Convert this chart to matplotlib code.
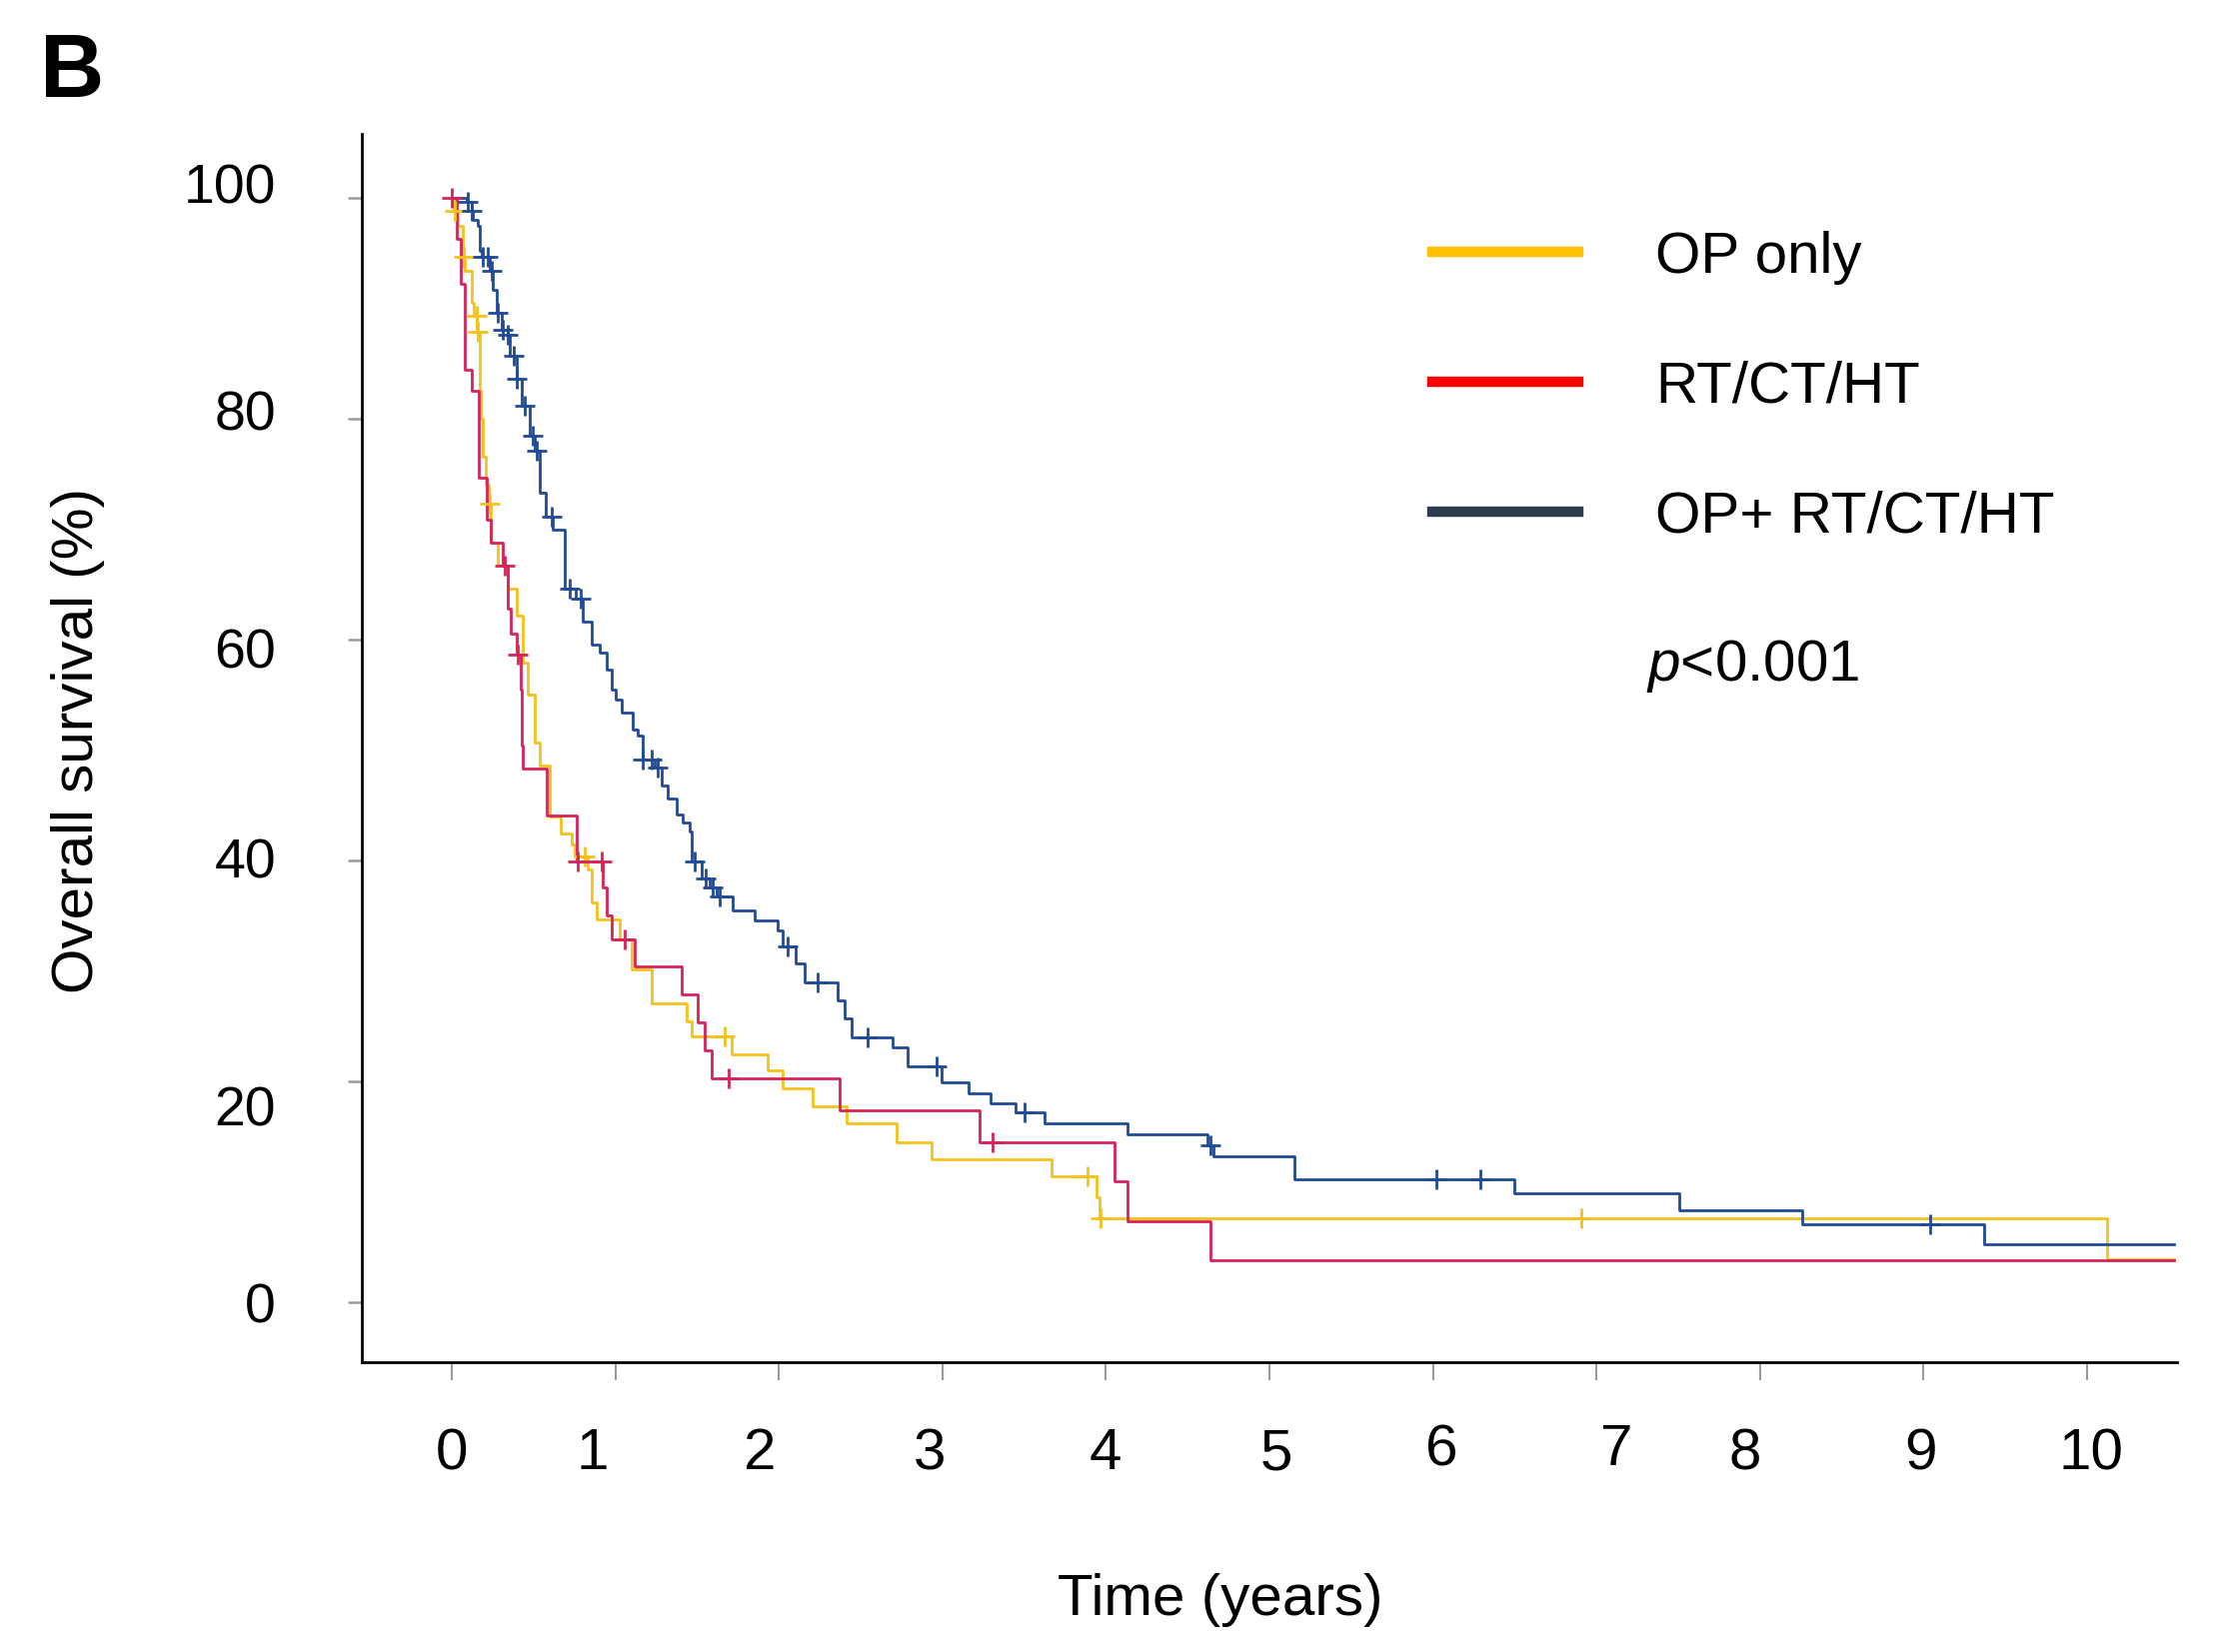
import numpy as np
import matplotlib
matplotlib.use("Agg")
import matplotlib.pyplot as plt
from matplotlib.transforms import ScaledTranslation, blended_transform_factory

plt.rcParams['font.family'] = ['Liberation Sans', 'DejaVu Sans']
plt.rcParams['mathtext.fontset'] = 'custom'
plt.rcParams['mathtext.it'] = 'Liberation Sans:italic'
plt.rcParams['mathtext.rm'] = 'Liberation Sans'

# ---------------- data ----------------
group_labels = ["OP only", "RT/CT/HT", "OP+ RT/CT/HT"]

# OP only (yellow)
op_t = [0, 0.010, 0.039, 0.065, 0.080, 0.120, 0.135, 0.155, 0.171, 0.180, 0.192, 0.210,
        0.228, 0.240, 0.283, 0.344, 0.395, 0.432, 0.467, 0.507, 0.538, 0.599, 0.664,
        0.731, 0.752, 0.833, 0.854, 0.884, 1.027, 1.098, 1.220, 1.434, 1.465, 1.709,
        1.933, 2.025, 2.209, 2.412, 2.718, 2.932, 3.670, 3.940, 3.960, 10.12]
op_s = [100, 98.8, 97.5, 94.7, 93.4, 90.5, 89.3, 87.9, 82.5, 80.0, 76.6, 74.0,
        72.3, 68.8, 66.7, 64.6, 62.2, 57.9, 55.0, 50.7, 48.6, 44.0, 42.5,
        41.5, 40.4, 39.2, 36.2, 34.7, 32.9, 30.2, 27.1, 25.5, 24.1, 22.5,
        21.0, 19.4, 17.8, 16.2, 14.5, 13.0, 11.4, 9.5, 7.6, 3.9]
op_cens = [0.018, 0.072, 0.151, 0.161, 0.232, 0.813, 1.669, 3.885, 3.970, 6.91]

# RT/CT/HT (red)
rt_t = [0, 0.033, 0.053, 0.080, 0.120, 0.167, 0.212, 0.236, 0.314, 0.344, 0.360,
        0.400, 0.420, 0.426, 0.436, 0.579, 0.762, 0.925, 0.945, 0.976, 1.119,
        1.404, 1.506, 1.546, 1.587, 2.372, 3.230, 4.050, 4.130, 4.640]
rt_s = [100, 96.3, 92.2, 84.4, 82.5, 74.7, 70.9, 68.8, 66.7, 62.8, 60.6,
        58.7, 55.5, 50.4, 48.3, 44.1, 39.9, 37.6, 35.0, 32.9, 30.4,
        27.9, 25.4, 22.8, 20.3, 17.4, 14.5, 11.0, 7.4, 3.85]
rt_cens = [0.0, 0.324, 0.405, 0.772, 0.919, 1.057, 1.695, 3.31]

# OP + RT/CT/HT (blue)
co_t = [0, 0.090, 0.120, 0.130, 0.161, 0.171, 0.185, 0.232, 0.253, 0.273, 0.304,
        0.340, 0.355, 0.395, 0.426, 0.477, 0.510, 0.538, 0.578, 0.620, 0.691,
        0.760, 0.803, 0.854, 0.905, 0.945, 0.976, 1.000, 1.037, 1.108, 1.139,
        1.170, 1.240, 1.281, 1.322, 1.373, 1.414, 1.455, 1.465, 1.526, 1.580,
        1.618, 1.719, 1.852, 1.994, 2.025, 2.106, 2.157, 2.361, 2.402, 2.443,
        2.698, 2.789, 2.995, 3.159, 3.295, 3.445, 3.622, 4.130, 4.620, 4.660,
        5.150, 6.500, 7.505, 8.260, 9.370]
co_s = [100, 99.6, 98.8, 98.0, 97.5, 95.2, 94.7, 93.4, 91.7, 89.6, 88.1,
        87.6, 85.7, 83.6, 81.2, 78.5, 77.1, 73.3, 71.1, 70.0, 64.6,
        63.7, 61.6, 59.6, 58.8, 57.3, 55.5, 54.6, 53.4, 51.9, 51.3,
        49.2, 48.4, 46.8, 45.6, 44.2, 43.5, 42.6, 39.9, 38.4, 37.6,
        36.8, 35.5, 34.6, 33.7, 32.2, 30.7, 29.0, 27.4, 25.7, 24.0,
        23.1, 21.4, 19.9, 18.9, 18.0, 17.2, 16.2, 15.2, 14.2, 13.2,
        11.2, 9.9, 8.4, 7.1, 5.3]
co_cens = [0.100, 0.120, 0.192, 0.222, 0.243, 0.283, 0.314, 0.342, 0.379, 0.399,
           0.446, 0.497, 0.518, 0.609, 0.721, 0.792, 1.170, 1.220, 1.261, 1.485,
           1.556, 1.597, 1.638, 2.056, 2.239, 2.545, 2.962, 3.50, 4.64, 6.02,
           6.29, 9.04]

follow_up_end = 10.53

x_ticks = [0, 1, 2, 3, 4, 5, 6, 7, 8, 9, 10]
x_tick_labels = ["0", "1", "2", "3", "4", "5", "6", "7", "8", "9", "10"]
y_ticks = [0, 20, 40, 60, 80, 100]
y_tick_labels = ["0", "20", "40", "60", "80", "100"]

# ---------------- styling ----------------
curve_colors = ["#F5C21B", "#D6245A", "#1F4B99"]
legend_colors = ["#FFC000", "#FF0000", "#2E3B4E"]

fig = plt.figure(figsize=(22.15, 16.53), dpi=100)
ax = fig.add_axes([0.1634, 0.1754, 0.9833 - 0.1634, 0.919 - 0.1754])


def surv_at(times, surv, t):
    idx = np.searchsorted(np.asarray(times), t, side="right") - 1
    return np.asarray(surv)[idx]


series = [(op_t, op_s, op_cens), (rt_t, rt_s, rt_cens), (co_t, co_s, co_cens)]
for (t, s, c), col in zip(series, curve_colors):
    tt = list(t) + [follow_up_end]
    ss = list(s) + [s[-1]]
    ax.step(tt, ss, where="post", color=col, lw=2.0, zorder=3)
    cy = surv_at(t, s, np.asarray(c))
    ax.plot(c, cy, ls="none", marker="+", ms=14, mew=2.0, color=col, zorder=4)

# legend (drawn by the library from proxy lines)
handles = [plt.Line2D([], [], color=lc, lw=7.5) for lc in legend_colors]
leg = fig.legend(handles, group_labels, loc="upper left",
                 bbox_to_anchor=(0.6470, 0.8605), bbox_transform=fig.transFigure,
                 frameon=False, fontsize=42, handlelength=2.5, handletextpad=1.32,
                 labelspacing=1.3, borderpad=0, borderaxespad=0)

fig.text(0.7436, 0.597, r"$p$<0.001", fontsize=42, ha="left", va="center")

ax.set_xlim(-0.55, 10.55)
ax.set_ylim(-5.4, 105.8)
for sp in ["top", "right"]:
    ax.spines[sp].set_visible(False)
for sp in ["left", "bottom"]:
    ax.spines[sp].set_linewidth(2.0)
    ax.spines[sp].set_color("black")

ax.set_xticks(x_ticks)
ax.set_yticks(y_ticks)
ax.set_xticklabels([])
ax.set_yticklabels([])
ax.tick_params(axis="x", direction="out", length=13, width=1.5, color="#9a9a9a")
ax.tick_params(axis="y", direction="out", length=10, width=1.8, color="#9a9a9a")

# tick labels (small individual offsets as in the reference), px at 100 dpi
x_dx = [0, -23, -20, -13, 0, 7, 9, 20, -15, -3, 4]
x_dy = [0, 0, 0, 0, 0, 0, 4, 4, 0, 0, 0]
bx = blended_transform_factory(ax.transData, ax.transAxes)
for xv, lab, dx, dy in zip(x_ticks, x_tick_labels, x_dx, x_dy):
    off = ScaledTranslation(dx / 100, (-107 + dy) / 100, fig.dpi_scale_trans)
    ax.text(xv, 0, lab, transform=bx + off, ha="center", va="baseline", fontsize=42)

y_dy = [20, 44, 17, 28, 11, 5]
by = blended_transform_factory(ax.transAxes, ax.transData)
for yv, lab, dy in zip(y_ticks, y_tick_labels, y_dy):
    off = ScaledTranslation(-86 / 100, -dy / 100, fig.dpi_scale_trans)
    ax.text(0, yv, lab, transform=by + off, ha="right", va="baseline", fontsize=40)

fig.text(0.0352, 0.552, "Overall survival (%)", rotation=90, ha="center", va="center", fontsize=42)
fig.text(0.551, 0.0315, "Time (years)", ha="center", va="center", fontsize=42)
fig.text(0.018, 1 - 97 / 1653, "B", fontsize=64, fontweight="bold", ha="left", va="baseline")

fig.savefig("out.png", dpi=100)
